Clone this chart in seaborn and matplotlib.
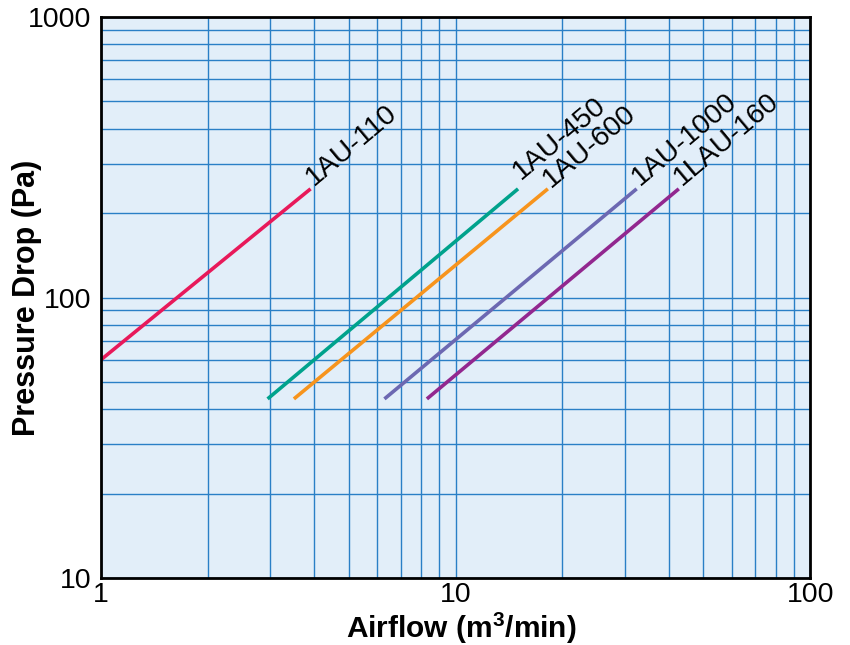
import pandas as pd
import seaborn as sns
import matplotlib.pyplot as plt
from matplotlib.ticker import LogLocator, NullFormatter, FixedFormatter, FixedLocator

# =========================
# DATOS
# =========================
MODELS = ["1AU-110", "1AU-450", "1AU-600", "1AU-1000", "1LAU-160"]
FLOW_START = [1.0, 2.95, 3.5, 6.3, 8.3]        # m3/min
FLOW_END = [3.9, 15.0, 18.2, 32.4, 42.6]
DROP_START = [60, 43.5, 43.5, 43.5, 43.5]      # Pa
DROP_END = [244, 244, 244, 244, 244]
COLORS = ["#e8195a", "#00a28c", "#f7941d", "#6c68b2", "#92278f"]
LABEL_LIFT = [3, 9, 1, 3, 3]                   # px above the line end

X_TICKS = [1, 10, 100]
X_LABELS = ["1", "10", "100"]
Y_TICKS = [10, 100, 1000]
Y_LABELS = ["10", "100", "1000"]

OUT_PNG = "out.png"


def construir_tabla():
    filas = []
    for m, x0, x1, y0, y1 in zip(MODELS, FLOW_START, FLOW_END, DROP_START, DROP_END):
        filas.append({"model": m, "flow": x0, "drop": y0})
        filas.append({"model": m, "flow": x1, "drop": y1})
    return pd.DataFrame(filas)


def grafico(df):
    sns.set_style("ticks")
    plt.rcParams["font.family"] = ["Liberation Sans", "DejaVu Sans"]
    plt.rcParams["text.color"] = "black"
    plt.rcParams["xtick.color"] = "black"
    plt.rcParams["ytick.color"] = "black"
    plt.rcParams["axes.labelcolor"] = "black"

    fig = plt.figure(figsize=(8.5, 6.45), dpi=100)
    ax = fig.add_axes([0.1188, 0.1039, 0.8344, 0.8697])
    ax.set_facecolor("#e2eef9")

    ax.set_xscale("log")
    ax.set_yscale("log")
    ax.set_xlim(1, 100)
    ax.set_ylim(10, 1000)

    # rejilla
    grid_color = "#2a7fc6"
    ax.xaxis.set_minor_locator(LogLocator(base=10, subs=range(2, 10)))
    ax.yaxis.set_minor_locator(LogLocator(base=10, subs=range(2, 10)))
    ax.xaxis.set_minor_formatter(NullFormatter())
    ax.yaxis.set_minor_formatter(NullFormatter())
    ax.grid(True, which="both", color=grid_color, linewidth=1.0)
    ax.set_axisbelow(True)

    sns.lineplot(
        data=df, x="flow", y="drop", hue="model",
        palette=dict(zip(MODELS, COLORS)), linewidth=2.6,
        legend=False, ax=ax, solid_capstyle="butt"
    )

    for m, x1, y1, c, dy in zip(MODELS, FLOW_END, DROP_END, COLORS, LABEL_LIFT):
        ax.annotate(
            m, xy=(x1, y1), xytext=(3, dy), textcoords="offset pixels",
            rotation=40, rotation_mode="anchor", ha="left", va="baseline",
            fontsize=20.5, color="black"
        )

    ax.xaxis.set_major_locator(FixedLocator(X_TICKS))
    ax.xaxis.set_major_formatter(FixedFormatter(X_LABELS))
    ax.yaxis.set_major_locator(FixedLocator(Y_TICKS))
    ax.yaxis.set_major_formatter(FixedFormatter(Y_LABELS))
    ax.tick_params(which="both", length=0, labelsize=20.5, pad=7,
                   labelcolor="black")
    ax.tick_params(axis="x", pad=3)

    for s in ax.spines.values():
        s.set_visible(True)
        s.set_color("black")
        s.set_linewidth(2)

    ax.set_xlabel("Airflow (m$^\\mathregular{3}$/min)", fontsize=21.5,
                  fontweight="bold")
    ax.set_ylabel("Pressure Drop (Pa)", fontsize=22, fontweight="bold")
    ax.xaxis.set_label_coords(0.508, -0.1065, transform=ax.transAxes)
    ax.yaxis.set_label_coords(-0.105, 0.5, transform=ax.transAxes)
    ax.xaxis.label.set_verticalalignment("baseline")
    ax.yaxis.label.set_verticalalignment("center")

    fig.savefig(OUT_PNG, dpi=100)
    plt.close(fig)


def main():
    df = construir_tabla()
    grafico(df)


if __name__ == "__main__":
    main()
